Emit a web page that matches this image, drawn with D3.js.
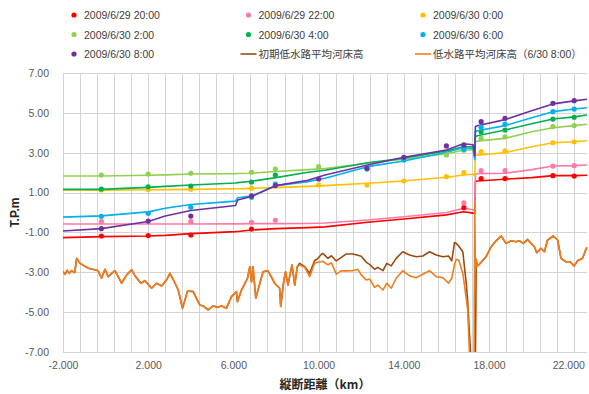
<!DOCTYPE html>
<html>
<head>
<meta charset="utf-8">
<script src="https://cdn.jsdelivr.net/npm/d3@7"></script>
<style>
  html, body { margin: 0; padding: 0; background: #fff; }
  svg { display: block; }
</style>
</head>
<body>
<svg id="chart" width="589" height="394"></svg>
<script>
// ---- Axis ticks ----
const xTicks = [-2, 2, 6, 10, 14, 18, 22];
const yTicks = [7, 5, 3, 1, -1, -3, -5, -7];

// ---- Computed water surface (shared distance grid, km) ----
const lineKm = [-2, -0.2, 2, 2.8, 4, 6.1, 6.2, 6.85, 8, 9.5, 10.3, 12.3, 14, 16, 16.8, 17.25, 17.33, 17.36, 17.45, 18.75, 20, 21, 22, 22.6];
const wl_0629_2000 = [-1.26, -1.21, -1.18, -1.15, -1.06, -0.96, -0.95, -0.88, -0.81, -0.76, -0.72, -0.49, -0.33, -0.12, 0.04, -0.03, -0.05, 1.55, 1.58, 1.67, 1.75, 1.85, 1.85, 1.87];
const wl_0629_2200 = [-0.58, -0.58, -0.58, -0.58, -0.58, -0.57, -0.57, -0.56, -0.56, -0.55, -0.53, -0.38, -0.21, 0.0, 0.21, 0.14, 0.10, 1.92, 1.95, 1.97, 2.15, 2.33, 2.35, 2.38];
const wl_0630_0000 = [1.13, 1.12, 1.14, 1.15, 1.16, 1.19, 1.19, 1.21, 1.25, 1.31, 1.35, 1.47, 1.58, 1.77, 1.88, 1.92, 1.85, 2.85, 2.88, 3.0, 3.3, 3.5, 3.55, 3.6];
const wl_0630_0200 = [1.83, 1.83, 1.87, 1.89, 1.93, 1.95, 1.96, 1.97, 2.06, 2.15, 2.2, 2.47, 2.67, 2.95, 3.12, 3.15, 2.75, 3.55, 3.58, 3.72, 4.05, 4.25, 4.36, 4.43];
const wl_0630_0400 = [1.16, 1.16, 1.26, 1.31, 1.38, 1.48, 1.5, 1.57, 1.75, 2.02, 2.12, 2.5, 2.72, 3.09, 3.3, 3.3, 2.8, 3.8, 3.85, 4.14, 4.45, 4.69, 4.8, 4.89];
const wl_0630_0600 = [-0.23, -0.17, 0.03, 0.21, 0.4, 0.57, 0.74, 0.82, 1.35, 1.55, 1.72, 2.3, 2.58, 3.02, 3.25, 3.22, 2.65, 4.05, 4.1, 4.36, 4.75, 5.06, 5.19, 5.26];
const wl_0630_0800 = [-0.93, -0.81, -0.45, -0.18, 0.1, 0.35, 0.63, 0.8, 1.35, 1.62, 1.88, 2.38, 2.77, 3.14, 3.45, 3.4, 2.85, 4.3, 4.35, 4.66, 5.1, 5.45, 5.6, 5.68];

// ---- Observed water levels (null = not observed) ----
const obsKm = [-0.2, 2.0, 4.0, 6.85, 7.97, 10.0, 12.27, 14.0, 16.0, 16.82, 17.63, 18.75, 21.0, 22.0];
const obs_0629_2000 = [-1.18, -1.16, -1.13, -0.83, null, null, null, null, null, 0.24, 1.70, 1.70, 1.85, 1.83];
const obs_0629_2200 = [-0.46, null, -0.46, -0.49, -0.39, null, null, null, null, 0.49, 2.10, 2.10, 2.33, 2.35];
const obs_0630_0000 = [1.13, 1.15, 1.17, 1.22, null, 1.38, 1.38, 1.58, 1.80, 2.00, 3.05, 3.09, 3.50, 3.55];
const obs_0630_0200 = [1.88, 1.93, 1.97, 2.02, 2.18, 2.30, null, null, 2.89, 3.12, 3.72, 3.80, 4.31, 4.36];
const obs_0630_0400 = [1.18, 1.29, 1.33, 1.53, 1.88, null, null, null, null, 3.27, 4.05, 4.14, 4.69, 4.78];
const obs_0630_0600 = [-0.19, -0.04, 0.26, 0.76, 1.43, null, 2.18, 2.63, null, 3.17, 4.28, 4.43, 5.06, 5.19];
const obs_0630_0800 = [-0.81, -0.43, -0.18, 0.83, 1.35, 1.68, 2.22, 2.77, 3.34, 3.39, 4.56, 4.73, 5.48, 5.61];

// ---- Mean low-water channel bed ----
const bedKm = [-2.00, -1.90, -1.81, -1.70, -1.60, -1.45, -1.36, -1.20, -0.81, -0.42, -0.35, -0.19, -0.03, 0.12, 0.44, 0.75, 0.99, 1.22, 1.38, 1.66, 1.84, 2.16, 2.39, 2.63, 2.86, 3.02, 3.17, 3.41, 3.61, 3.85, 4.11, 4.42, 4.58, 4.81, 5.05, 5.28, 5.44, 5.67, 5.91, 6.14, 6.19, 6.38, 6.66, 6.77, 6.85, 6.92, 7.05, 7.39, 7.62, 7.94, 8.17, 8.22, 8.37, 8.45, 8.56, 8.75, 8.88, 9.00, 9.11, 9.35, 9.58, 9.81, 9.97, 10.13, 10.20, 10.44, 10.60, 10.83, 11.07, 11.30, 11.61, 11.84, 12.00, 12.24, 12.39, 12.63, 12.78, 13.02, 13.20, 13.41, 13.64, 13.95, 14.27, 14.58, 14.89, 15.21, 15.52, 15.83, 16.10, 16.25, 16.38, 16.46, 16.58, 16.77, 16.93, 17.00, 17.08, 17.16, 17.30, 17.33, 17.36, 17.40, 17.45, 17.63, 17.86, 18.10, 18.33, 18.57, 18.80, 19.04, 19.27, 19.43, 19.61, 19.81, 19.97, 20.13, 20.24, 20.44, 20.60, 20.75, 21.02, 21.22, 21.38, 21.61, 21.80, 22.00, 22.16, 22.39, 22.55, 22.60];
const bedInitial = [-2.97, -3.10, -2.90, -3.05, -2.92, -3.02, -2.30, -2.55, -2.80, -2.90, -2.93, -3.30, -2.85, -3.22, -2.92, -3.55, -3.13, -2.88, -3.18, -3.55, -3.42, -3.80, -3.55, -3.69, -3.39, -3.05, -3.35, -3.89, -4.81, -3.94, -3.97, -4.64, -4.69, -4.89, -4.69, -4.76, -4.68, -4.81, -4.22, -3.97, -4.48, -3.89, -3.30, -2.72, -3.47, -2.72, -4.30, -2.97, -2.92, -3.55, -3.80, -4.72, -3.39, -2.97, -3.64, -2.63, -3.64, -2.72, -2.55, -2.72, -3.05, -2.42, -2.30, -2.10, -2.05, -2.30, -2.17, -2.43, -2.25, -2.08, -2.08, -2.15, -2.20, -2.50, -2.60, -2.85, -2.75, -2.92, -2.55, -2.68, -2.30, -1.97, -2.13, -2.22, -2.18, -1.97, -2.13, -2.22, -2.18, -2.43, -1.51, -1.55, -1.68, -1.97, -3.55, -4.50, -6.06, -7.50, -7.50, -7.50, -7.50, -2.35, -2.70, -2.50, -2.22, -1.72, -1.42, -1.18, -1.55, -1.42, -1.47, -1.42, -1.55, -1.35, -1.55, -1.72, -2.02, -1.80, -1.97, -1.38, -1.18, -1.38, -2.30, -2.47, -2.47, -2.68, -2.42, -2.30, -1.85, -1.75];
const bed0630 = [-2.97, -3.10, -2.90, -3.05, -2.92, -3.02, -2.30, -2.55, -2.80, -2.90, -2.93, -3.30, -2.85, -3.22, -2.92, -3.55, -3.13, -2.88, -3.18, -3.55, -3.42, -3.80, -3.55, -3.69, -3.39, -3.05, -3.35, -3.89, -4.81, -3.94, -3.97, -4.64, -4.69, -4.89, -4.69, -4.76, -4.68, -4.81, -4.22, -3.97, -4.48, -3.89, -3.30, -2.72, -3.47, -2.72, -4.30, -2.97, -2.92, -3.55, -3.80, -4.72, -3.39, -2.97, -3.64, -2.63, -3.64, -2.72, -2.63, -2.75, -3.22, -2.55, -2.50, -2.47, -2.45, -2.63, -2.52, -3.09, -2.92, -2.93, -2.92, -2.85, -3.13, -3.39, -3.34, -3.75, -3.64, -3.89, -3.55, -3.80, -3.30, -2.92, -3.18, -3.27, -3.10, -2.92, -3.22, -3.27, -3.55, -3.30, -2.60, -2.35, -2.40, -3.05, -4.30, -4.89, -7.00, -7.50, -7.50, 0.45, -2.90, -2.35, -2.70, -2.50, -2.22, -1.72, -1.42, -1.18, -1.55, -1.42, -1.47, -1.42, -1.55, -1.35, -1.55, -1.72, -2.02, -1.80, -1.97, -1.38, -1.18, -1.38, -2.30, -2.47, -2.47, -2.68, -2.42, -2.30, -1.85, -1.75];

// ---- Series definitions ----
const waterSeries = [
  { name: "2009/6/29 20:00", color: "#FF0000", line: wl_0629_2000, obs: obs_0629_2000 },
  { name: "2009/6/29 22:00", color: "#FF7AA6", line: wl_0629_2200, obs: obs_0629_2200 },
  { name: "2009/6/30 0:00",  color: "#FFC000", line: wl_0630_0000, obs: obs_0630_0000 },
  { name: "2009/6/30 2:00",  color: "#92D050", line: wl_0630_0200, obs: obs_0630_0200 },
  { name: "2009/6/30 4:00",  color: "#00B050", line: wl_0630_0400, obs: obs_0630_0400 },
  { name: "2009/6/30 6:00",  color: "#00B0F0", line: wl_0630_0600, obs: obs_0630_0600 },
  { name: "2009/6/30 8:00",  color: "#7030A0", line: wl_0630_0800, obs: obs_0630_0800 }
];
const bedSeries = [
  { name: "初期低水路平均河床高", color: "#9C4A12", values: bedInitial },
  { name: "低水路平均河床高（6/30 8:00）", color: "#F07D1E", values: bed0630 }
];

// ---- Layout ----
const W = 589;
const svg = d3.select("#chart");
const plot = { left: 63, right: 587, top: 73, bottom: 352 };

const x = d3.scaleLinear().domain([-2, 22.6]).range([plot.left, plot.right]);
const y = d3.scaleLinear().domain([-7, 7]).range([plot.bottom, plot.top]);

const tickFont = "'Liberation Sans', Arial, sans-serif";

svg.append("defs").append("clipPath").attr("id", "plotClip")
  .append("rect")
  .attr("x", plot.left).attr("y", plot.top - 1)
  .attr("width", plot.right - plot.left + 2).attr("height", plot.bottom - plot.top + 1);

// Gridlines: vertical every 0.8 km, horizontal every 2 m
const vGrid = d3.range(0, 31).map(i => -2 + 0.8 * i);
svg.append("g").selectAll("line").data(vGrid).join("line")
  .attr("x1", d => Math.round(x(d)) + 0.5).attr("x2", d => Math.round(x(d)) + 0.5)
  .attr("y1", plot.top).attr("y2", plot.bottom)
  .attr("stroke", "#D4D4D4").attr("stroke-width", 1);
svg.append("g").selectAll("line").data(yTicks).join("line")
  .attr("x1", plot.left).attr("x2", plot.right)
  .attr("y1", d => Math.round(y(d)) + 0.5).attr("y2", d => Math.round(y(d)) + 0.5)
  .attr("stroke", "#D4D4D4").attr("stroke-width", 1);

// Axes (labels only)
const xAxis = svg.append("g")
  .attr("transform", `translate(0,${plot.bottom})`)
  .call(d3.axisBottom(x).tickValues(xTicks).tickSize(0).tickPadding(10)
    .tickFormat(d => d.toFixed(3)));
xAxis.select(".domain").remove();
xAxis.selectAll("text").attr("font-family", tickFont).attr("font-size", 10.5).attr("fill", "#595959");
// keep the last label inside the chart area
xAxis.selectAll("text").each(function () {
  const bb = this.getBBox();
  const tx = this.parentNode.transform.baseVal.consolidate().matrix.e;
  const overflow = tx + bb.x + bb.width - (W - 4);
  if (overflow > 0) d3.select(this).attr("dx", -overflow);
});

const yAxis = svg.append("g")
  .attr("transform", `translate(${plot.left},0)`)
  .call(d3.axisLeft(y).tickValues(yTicks).tickSize(0).tickPadding(14)
    .tickFormat(d => d.toFixed(2)));
yAxis.select(".domain").remove();
yAxis.selectAll("text").attr("font-family", tickFont).attr("font-size", 10.5).attr("fill", "#595959");

// Axis titles
svg.append("text")
  .attr("transform", `translate(19,${(plot.top + plot.bottom) / 2}) rotate(-90)`)
  .attr("text-anchor", "middle")
  .attr("font-family", tickFont).attr("font-weight", "bold").attr("font-size", 12)
  .attr("fill", "#262626")
  .text("T.P.m");
svg.append("text")
  .attr("x", (plot.left + plot.right) / 2).attr("y", 389)
  .attr("text-anchor", "middle")
  .attr("font-family", "'Noto Sans CJK JP', sans-serif").attr("font-weight", "bold").attr("font-size", 12)
  .attr("fill", "#262626")
  .text("縦断距離（km）");

// Plot layers
const layer = svg.append("g").attr("clip-path", "url(#plotClip)");

const lineGen = (xs) => d3.line()
  .defined(d => d[1] !== null)
  .x(d => x(d[0])).y(d => y(d[1]))(xs);

waterSeries.forEach(s => {
  layer.append("path")
    .attr("d", lineGen(lineKm.map((k, i) => [k, s.line[i]])))
    .attr("fill", "none").attr("stroke", s.color).attr("stroke-width", 1.6)
    .attr("stroke-linejoin", "round");
});

bedSeries.forEach(s => {
  layer.append("path")
    .attr("d", lineGen(bedKm.map((k, i) => [k, s.values[i]])))
    .attr("fill", "none").attr("stroke", s.color).attr("stroke-width", 1.6)
    .attr("stroke-linejoin", "round");
});

waterSeries.forEach(s => {
  const pts = obsKm.map((k, i) => [k, s.obs[i]]).filter(d => d[1] !== null);
  layer.append("g").selectAll("circle").data(pts).join("circle")
    .attr("cx", d => x(d[0])).attr("cy", d => y(d[1]))
    .attr("r", 2.6).attr("fill", s.color);
});

// Legend: 3 columns x 3 rows
const legendCols = [74, 248.5, 423];
const legendRows = [15, 34.5, 54];
const legendItems = waterSeries.map(s => ({ name: s.name, color: s.color, kind: "dot" }))
  .concat(bedSeries.map(s => ({ name: s.name, color: s.color, kind: "line" })));
const legend = svg.append("g");
legendItems.forEach((it, i) => {
  const cx = legendCols[i % 3], cy = legendRows[Math.floor(i / 3)];
  const g = legend.append("g");
  if (it.kind === "dot") {
    g.append("circle").attr("cx", cx).attr("cy", cy).attr("r", 2.6).attr("fill", it.color);
  } else {
    g.append("line").attr("x1", cx - 8).attr("x2", cx + 8).attr("y1", cy).attr("y2", cy)
      .attr("stroke", it.color).attr("stroke-width", 1.6);
  }
  g.append("text")
    .attr("x", cx + 10).attr("y", cy)
    .attr("dominant-baseline", "central")
    .attr("font-family", "'Liberation Sans', 'Noto Sans CJK JP', sans-serif")
    .attr("font-size", 10.5).attr("fill", "#404040")
    .text(it.name);
});
</script>
</body>
</html>
